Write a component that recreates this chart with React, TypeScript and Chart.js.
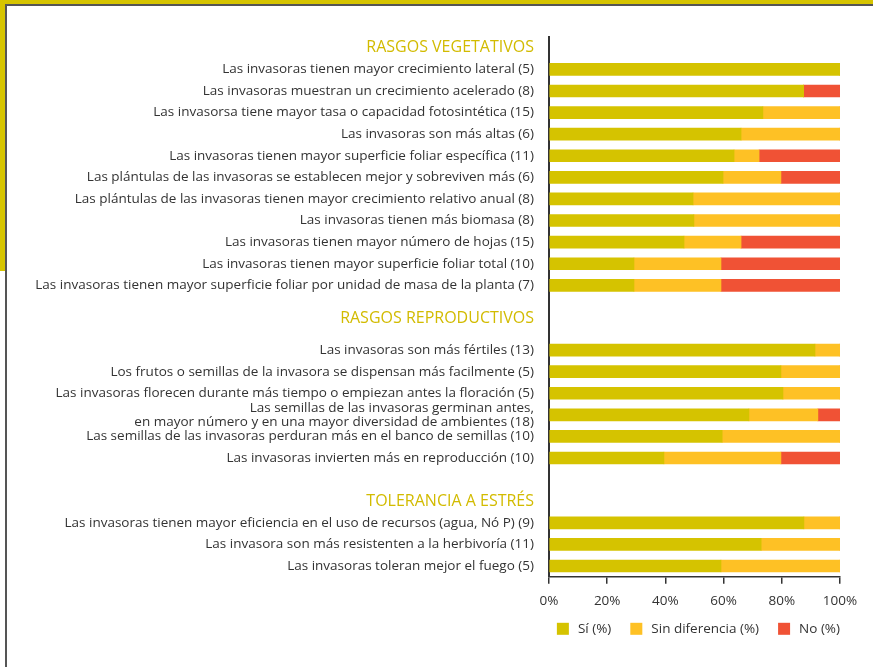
import React, { useEffect, useRef } from 'react';
import { Chart, registerables } from 'chart.js';

Chart.register(...registerables);

const categories: (string | string[])[] = [
  'RASGOS VEGETATIVOS',
  'Las invasoras tienen mayor crecimiento lateral (5)',
  'Las invasoras muestran un crecimiento acelerado (8)',
  'Las invasorsa tiene mayor tasa o capacidad fotosintética (15)',
  'Las invasoras son más altas (6)',
  'Las invasoras tienen mayor superficie foliar específica (11)',
  'Las plántulas de las invasoras se establecen mejor y sobreviven más (6)',
  'Las plántulas de las invasoras tienen mayor crecimiento relativo anual (8)',
  'Las invasoras tienen más biomasa (8)',
  'Las invasoras tienen mayor número de hojas (15)',
  'Las invasoras tienen mayor superficie foliar total (10)',
  'Las invasoras tienen mayor superficie foliar por unidad de masa de la planta (7)',
  '',
  ['RASGOS REPRODUCTIVOS', ''],
  'Las invasoras son más fértiles (13)',
  'Los frutos o semillas de la invasora se dispensan más facilmente (5)',
  'Las invasoras florecen durante más tiempo o empiezan antes la floración (5)',
  ['Las semillas de las invasoras germinan antes,', 'en mayor número y en una mayor diversidad de ambientes (18)'],
  'Las semillas de las invasoras perduran más en el banco de semillas (10)',
  'Las invasoras invierten más en reproducción (10)',
  '',
  'TOLERANCIA A ESTRÉS',
  'Las invasoras tienen mayor eficiencia en el uso de recursos (agua, Nó P) (9)',
  'Las invasora son más resistenten a la herbivoría (11)',
  'Las invasoras toleran mejor el fuego (5)',
];

const headerRows = [0, 13, 21];

const siValues = [null, 100, 87.5, 73.5, 66, 63.6, 59.8, 49.5, 49.8, 46.4, 29.2, 29.2, null, null, 91.4, 79.7, 80.4, 68.7, 59.5, 39.5, null, null, 87.6, 72.9, 59.1];
const sinValues = [null, 0, 0, 26.5, 34, 8.6, 19.9, 50.5, 50.2, 19.6, 29.9, 29.9, null, null, 8.6, 20.3, 19.6, 23.7, 40.5, 40.2, null, null, 12.4, 27.1, 40.9];
const noValues = [null, 0, 12.5, 0, 0, 27.8, 20.3, 0, 0, 34, 40.9, 40.9, null, null, 0, 0, 0, 7.6, 0, 20.3, null, null, 0, 0, 0];

const seriesNames = ['Sí (%)', 'Sin diferencia (%)', 'No (%)'];
const xTicks = [0, 20, 40, 60, 80, 100];

const COLORS = ['#D5C300', '#FEC125', '#F05235'];
const FONT = '"Open Sans", sans-serif';

const legendPlugin = {
  id: 'bottomLegend',
  afterDraw(chart: any) {
    const { ctx, chartArea } = chart;
    const box = 12;
    const textGap = 9;
    const itemGap = 19;
    ctx.save();
    ctx.font = `13.5px ${FONT}`;
    ctx.textBaseline = 'middle';
    ctx.textAlign = 'left';
    const items = chart.data.datasets.map((ds: any) => ({
      label: ds.label,
      color: ds.backgroundColor,
      w: ctx.measureText(ds.label).width,
    }));
    const total = items.reduce((s: number, it: any) => s + box + textGap + it.w, 0) + itemGap * (items.length - 1);
    let x = chartArea.right - total;
    const y = chartArea.bottom + 52;
    items.forEach((it: any) => {
      ctx.fillStyle = it.color;
      ctx.fillRect(x, y - box / 2, box, box);
      x += box + textGap;
      ctx.fillStyle = '#333';
      ctx.fillText(it.label, x, y + 0.5);
      x += it.w + itemGap;
    });
    ctx.restore();
  },
};

export default function App() {
  const ref = useRef<HTMLCanvasElement | null>(null);

  useEffect(() => {
    if (!ref.current) return;
    const chart = new Chart(ref.current, {
      type: 'bar',
      data: {
        labels: categories,
        datasets: [siValues, sinValues, noValues].map((d, i) => ({
          label: seriesNames[i],
          data: d as any,
          backgroundColor: COLORS[i],
          borderWidth: 0,
          barThickness: 12,
        })),
      },
      plugins: [legendPlugin],
      options: {
        indexAxis: 'y',
        animation: false,
        responsive: true,
        maintainAspectRatio: false,
        layout: { padding: { left: 8, right: 33, top: 37, bottom: 49 } },
        plugins: {
          tooltip: { enabled: false },
          legend: { display: false },
        },
        scales: {
          x: {
            stacked: true,
            min: 0,
            max: 100,
            afterBuildTicks: (scale: any) => {
              scale.ticks = xTicks.map((v) => ({ value: v }));
            },
            ticks: {
              callback: (v: any) => v + '%',
              color: '#333',
              font: { family: FONT, size: 13.5 },
              padding: 9,
            },
            grid: {
              display: true,
              drawOnChartArea: false,
              drawTicks: true,
              tickLength: 7,
              color: '#333',
              lineWidth: 1.5,
            },
            border: { display: true, color: '#333', width: 1.5 },
          },
          y: {
            stacked: true,
            afterFit: (scale: any) => {
              scale.width = 541;
            },
            ticks: {
              autoSkip: false,
              padding: 15,
              color: (ctx: any) => (headerRows.includes(ctx.index) ? '#D2BB00' : '#333'),
              font: (ctx: any) =>
                headerRows.includes(ctx.index)
                  ? { family: FONT, size: 16, lineHeight: 1.2 }
                  : { family: FONT, size: 13.5, lineHeight: 1.05 },
            },
            grid: { display: true, drawOnChartArea: false, drawTicks: false },
            border: { display: true, color: '#333', width: 2 },
          },
        },
      },
    });
    return () => chart.destroy();
  }, []);

  return (
    <div style={{ position: 'absolute', left: 0, top: 0, width: 873, height: 667, background: '#fff' }}>
      <canvas ref={ref} />
      <div style={{ position: 'absolute', left: 0, top: 0, width: 873, height: 4, background: '#D6C400' }} />
      <div style={{ position: 'absolute', left: 5, top: 4, width: 868, height: 1.5, background: '#555' }} />
      <div style={{ position: 'absolute', left: 0, top: 0, width: 5, height: 271, background: '#D6C400' }} />
      <div style={{ position: 'absolute', left: 5, top: 4, width: 1.5, height: 663, background: '#555' }} />
    </div>
  );
}
